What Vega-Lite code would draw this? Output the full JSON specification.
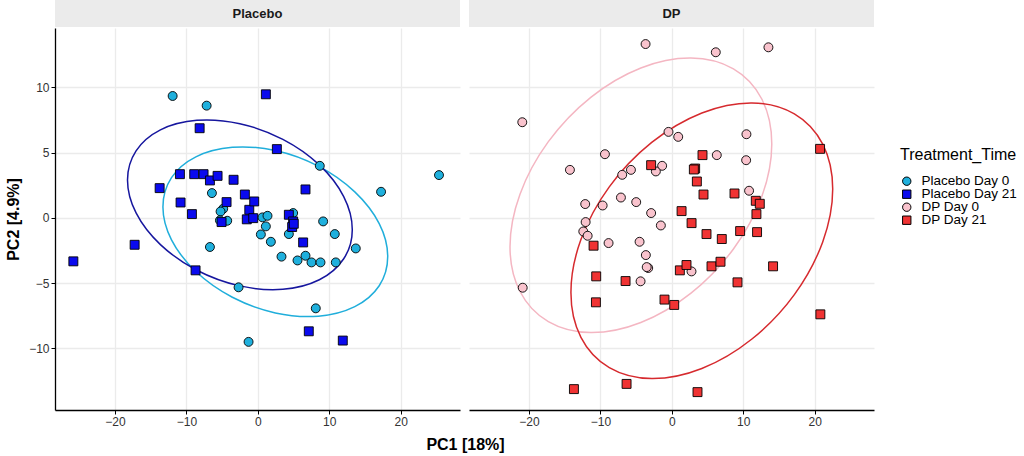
{
  "$schema": "https://vega.github.io/schema/vega-lite/v6.json",
  "padding": {"left": 5, "top": 0, "right": 5, "bottom": 3},
  "background": "white",
  "config": {
    "view": {"stroke": null},
    "font": "Liberation Sans",
    "axis": {
      "gridColor": "#EBEBEB", "gridWidth": 1.3,
      "domainColor": "black", "domainWidth": 1.3,
      "tickColor": "black", "tickSize": 4, "tickWidth": 1,
      "labelFontSize": 12, "labelColor": "#333333", "labelFont": "Liberation Sans", "labelPadding": 2,
      "titleFont": "Liberation Sans", "titleFontSize": 16, "titleFontWeight": "bold", "titleColor": "black"
    }
  },
  "datasets": {
    "strips": [{"panel": "Placebo"}, {"panel": "DP"}],
    "points": [
      {"panel": "Placebo", "group": "Placebo Day 0", "pc1": -11.93, "pc2": 9.33},
      {"panel": "Placebo", "group": "Placebo Day 0", "pc1": -7.17, "pc2": 8.59},
      {"panel": "Placebo", "group": "Placebo Day 0", "pc1": -6.43, "pc2": 1.89},
      {"panel": "Placebo", "group": "Placebo Day 0", "pc1": -4.85, "pc2": 0.69},
      {"panel": "Placebo", "group": "Placebo Day 0", "pc1": -5.22, "pc2": 0.48},
      {"panel": "Placebo", "group": "Placebo Day 0", "pc1": -5.31, "pc2": -0.2},
      {"panel": "Placebo", "group": "Placebo Day 0", "pc1": -4.29, "pc2": -0.23},
      {"panel": "Placebo", "group": "Placebo Day 0", "pc1": -6.71, "pc2": -2.24},
      {"panel": "Placebo", "group": "Placebo Day 0", "pc1": -2.7, "pc2": -5.33},
      {"panel": "Placebo", "group": "Placebo Day 0", "pc1": -1.3, "pc2": -9.51},
      {"panel": "Placebo", "group": "Placebo Day 0", "pc1": 8.67, "pc2": 3.98},
      {"panel": "Placebo", "group": "Placebo Day 0", "pc1": 25.36, "pc2": 3.27},
      {"panel": "Placebo", "group": "Placebo Day 0", "pc1": 17.25, "pc2": 1.99},
      {"panel": "Placebo", "group": "Placebo Day 0", "pc1": 0.65, "pc2": 0.03},
      {"panel": "Placebo", "group": "Placebo Day 0", "pc1": 1.35, "pc2": 0.15},
      {"panel": "Placebo", "group": "Placebo Day 0", "pc1": 1.12, "pc2": -0.66},
      {"panel": "Placebo", "group": "Placebo Day 0", "pc1": 4.94, "pc2": 0.36},
      {"panel": "Placebo", "group": "Placebo Day 0", "pc1": 9.14, "pc2": -0.28},
      {"panel": "Placebo", "group": "Placebo Day 0", "pc1": 0.42, "pc2": -1.28},
      {"panel": "Placebo", "group": "Placebo Day 0", "pc1": 1.82, "pc2": -1.84},
      {"panel": "Placebo", "group": "Placebo Day 0", "pc1": 4.34, "pc2": -1.25},
      {"panel": "Placebo", "group": "Placebo Day 0", "pc1": 10.77, "pc2": -1.25},
      {"panel": "Placebo", "group": "Placebo Day 0", "pc1": 13.71, "pc2": -2.35},
      {"panel": "Placebo", "group": "Placebo Day 0", "pc1": 3.31, "pc2": -2.98},
      {"panel": "Placebo", "group": "Placebo Day 0", "pc1": 6.67, "pc2": -2.91},
      {"panel": "Placebo", "group": "Placebo Day 0", "pc1": 5.55, "pc2": -3.27},
      {"panel": "Placebo", "group": "Placebo Day 0", "pc1": 7.51, "pc2": -3.42},
      {"panel": "Placebo", "group": "Placebo Day 0", "pc1": 8.77, "pc2": -3.42},
      {"panel": "Placebo", "group": "Placebo Day 0", "pc1": 10.91, "pc2": -3.42},
      {"panel": "Placebo", "group": "Placebo Day 0", "pc1": 8.11, "pc2": -6.94},
      {"panel": "Placebo", "group": "Placebo Day 21", "pc1": -8.15, "pc2": 6.86},
      {"panel": "Placebo", "group": "Placebo Day 21", "pc1": -10.91, "pc2": 3.34},
      {"panel": "Placebo", "group": "Placebo Day 21", "pc1": -8.91, "pc2": 3.34},
      {"panel": "Placebo", "group": "Placebo Day 21", "pc1": -7.6, "pc2": 3.34},
      {"panel": "Placebo", "group": "Placebo Day 21", "pc1": -6.71, "pc2": 2.86},
      {"panel": "Placebo", "group": "Placebo Day 21", "pc1": -5.64, "pc2": 3.21},
      {"panel": "Placebo", "group": "Placebo Day 21", "pc1": -3.4, "pc2": 2.91},
      {"panel": "Placebo", "group": "Placebo Day 21", "pc1": -13.75, "pc2": 2.27},
      {"panel": "Placebo", "group": "Placebo Day 21", "pc1": -1.82, "pc2": 1.78},
      {"panel": "Placebo", "group": "Placebo Day 21", "pc1": -10.82, "pc2": 1.17},
      {"panel": "Placebo", "group": "Placebo Day 21", "pc1": -4.38, "pc2": 1.2},
      {"panel": "Placebo", "group": "Placebo Day 21", "pc1": -9.23, "pc2": 0.28},
      {"panel": "Placebo", "group": "Placebo Day 21", "pc1": -1.2, "pc2": 0.61},
      {"panel": "Placebo", "group": "Placebo Day 21", "pc1": -5.08, "pc2": -0.33},
      {"panel": "Placebo", "group": "Placebo Day 21", "pc1": -1.55, "pc2": -0.12},
      {"panel": "Placebo", "group": "Placebo Day 21", "pc1": -17.25, "pc2": -2.07},
      {"panel": "Placebo", "group": "Placebo Day 21", "pc1": -25.83, "pc2": -3.34},
      {"panel": "Placebo", "group": "Placebo Day 21", "pc1": -8.72, "pc2": -4.03},
      {"panel": "Placebo", "group": "Placebo Day 21", "pc1": 1.12, "pc2": 9.46},
      {"panel": "Placebo", "group": "Placebo Day 21", "pc1": 2.66, "pc2": 5.26},
      {"panel": "Placebo", "group": "Placebo Day 21", "pc1": 6.67, "pc2": 2.17},
      {"panel": "Placebo", "group": "Placebo Day 21", "pc1": -0.51, "pc2": 1.25},
      {"panel": "Placebo", "group": "Placebo Day 21", "pc1": -0.65, "pc2": -0.03},
      {"panel": "Placebo", "group": "Placebo Day 21", "pc1": 4.34, "pc2": 0.23},
      {"panel": "Placebo", "group": "Placebo Day 21", "pc1": 4.94, "pc2": -0.28},
      {"panel": "Placebo", "group": "Placebo Day 21", "pc1": 4.8, "pc2": -0.71},
      {"panel": "Placebo", "group": "Placebo Day 21", "pc1": 5.03, "pc2": -0.46},
      {"panel": "Placebo", "group": "Placebo Day 21", "pc1": 6.34, "pc2": -1.89},
      {"panel": "Placebo", "group": "Placebo Day 21", "pc1": 7.13, "pc2": -8.7},
      {"panel": "Placebo", "group": "Placebo Day 21", "pc1": 11.89, "pc2": -9.41},
      {"panel": "DP", "group": "DP Day 0", "pc1": -20.94, "pc2": 7.32},
      {"panel": "DP", "group": "DP Day 0", "pc1": -9.37, "pc2": 4.87},
      {"panel": "DP", "group": "DP Day 0", "pc1": -14.27, "pc2": 3.67},
      {"panel": "DP", "group": "DP Day 0", "pc1": -6.95, "pc2": 3.29},
      {"panel": "DP", "group": "DP Day 0", "pc1": -5.73, "pc2": 3.67},
      {"panel": "DP", "group": "DP Day 0", "pc1": -7.13, "pc2": 1.55},
      {"panel": "DP", "group": "DP Day 0", "pc1": -4.99, "pc2": 1.2},
      {"panel": "DP", "group": "DP Day 0", "pc1": -12.13, "pc2": 1.05},
      {"panel": "DP", "group": "DP Day 0", "pc1": -9.69, "pc2": 0.94},
      {"panel": "DP", "group": "DP Day 0", "pc1": -12.07, "pc2": -0.33},
      {"panel": "DP", "group": "DP Day 0", "pc1": -3.68, "pc2": 13.31},
      {"panel": "DP", "group": "DP Day 0", "pc1": 6.15, "pc2": 12.68},
      {"panel": "DP", "group": "DP Day 0", "pc1": 13.52, "pc2": 13.06},
      {"panel": "DP", "group": "DP Day 0", "pc1": -0.47, "pc2": 6.58},
      {"panel": "DP", "group": "DP Day 0", "pc1": 0.89, "pc2": 6.2},
      {"panel": "DP", "group": "DP Day 0", "pc1": 10.44, "pc2": 6.4},
      {"panel": "DP", "group": "DP Day 0", "pc1": 6.29, "pc2": 4.8},
      {"panel": "DP", "group": "DP Day 0", "pc1": 10.4, "pc2": 4.41},
      {"panel": "DP", "group": "DP Day 0", "pc1": -1.36, "pc2": 3.98},
      {"panel": "DP", "group": "DP Day 0", "pc1": -2.24, "pc2": 3.55},
      {"panel": "DP", "group": "DP Day 0", "pc1": 10.81, "pc2": 2.07},
      {"panel": "DP", "group": "DP Day 0", "pc1": -2.9, "pc2": 0.36},
      {"panel": "DP", "group": "DP Day 0", "pc1": -1.54, "pc2": -0.59},
      {"panel": "DP", "group": "DP Day 0", "pc1": -4.52, "pc2": -1.84},
      {"panel": "DP", "group": "DP Day 0", "pc1": -3.64, "pc2": -2.86},
      {"panel": "DP", "group": "DP Day 0", "pc1": -3.31, "pc2": -3.85},
      {"panel": "DP", "group": "DP Day 0", "pc1": -3.52, "pc2": -3.78},
      {"panel": "DP", "group": "DP Day 0", "pc1": -4.38, "pc2": -4.87},
      {"panel": "DP", "group": "DP Day 0", "pc1": 2.75, "pc2": -4.11},
      {"panel": "DP", "group": "DP Day 0", "pc1": -12.4, "pc2": -1.05},
      {"panel": "DP", "group": "DP Day 0", "pc1": -11.79, "pc2": -1.38},
      {"panel": "DP", "group": "DP Day 0", "pc1": -8.86, "pc2": -1.94},
      {"panel": "DP", "group": "DP Day 0", "pc1": -20.88, "pc2": -5.36},
      {"panel": "DP", "group": "DP Day 21", "pc1": 20.75, "pc2": 5.28},
      {"panel": "DP", "group": "DP Day 21", "pc1": 4.29, "pc2": 4.8},
      {"panel": "DP", "group": "DP Day 21", "pc1": -2.9, "pc2": 4.03},
      {"panel": "DP", "group": "DP Day 21", "pc1": 3.26, "pc2": 3.77},
      {"panel": "DP", "group": "DP Day 21", "pc1": 3.08, "pc2": 3.7},
      {"panel": "DP", "group": "DP Day 21", "pc1": 3.5, "pc2": 2.78},
      {"panel": "DP", "group": "DP Day 21", "pc1": 4.43, "pc2": 1.78},
      {"panel": "DP", "group": "DP Day 21", "pc1": 8.77, "pc2": 1.86},
      {"panel": "DP", "group": "DP Day 21", "pc1": 11.75, "pc2": 1.3},
      {"panel": "DP", "group": "DP Day 21", "pc1": 12.31, "pc2": 1.07},
      {"panel": "DP", "group": "DP Day 21", "pc1": 11.84, "pc2": 0.28},
      {"panel": "DP", "group": "DP Day 21", "pc1": 1.36, "pc2": 0.51},
      {"panel": "DP", "group": "DP Day 21", "pc1": 2.76, "pc2": -0.41},
      {"panel": "DP", "group": "DP Day 21", "pc1": 4.85, "pc2": -1.25},
      {"panel": "DP", "group": "DP Day 21", "pc1": 6.99, "pc2": -1.63},
      {"panel": "DP", "group": "DP Day 21", "pc1": 9.56, "pc2": -1.02},
      {"panel": "DP", "group": "DP Day 21", "pc1": 11.93, "pc2": -1.1},
      {"panel": "DP", "group": "DP Day 21", "pc1": 1.12, "pc2": -4.03},
      {"panel": "DP", "group": "DP Day 21", "pc1": 2.05, "pc2": -3.62},
      {"panel": "DP", "group": "DP Day 21", "pc1": 5.55, "pc2": -3.72},
      {"panel": "DP", "group": "DP Day 21", "pc1": 6.81, "pc2": -3.37},
      {"panel": "DP", "group": "DP Day 21", "pc1": 14.17, "pc2": -3.72},
      {"panel": "DP", "group": "DP Day 21", "pc1": 9.19, "pc2": -4.95},
      {"panel": "DP", "group": "DP Day 21", "pc1": -1.03, "pc2": -6.27},
      {"panel": "DP", "group": "DP Day 21", "pc1": 0.33, "pc2": -6.68},
      {"panel": "DP", "group": "DP Day 21", "pc1": 20.79, "pc2": -7.4},
      {"panel": "DP", "group": "DP Day 21", "pc1": 3.59, "pc2": -13.36},
      {"panel": "DP", "group": "DP Day 21", "pc1": -6.34, "pc2": -12.73},
      {"panel": "DP", "group": "DP Day 21", "pc1": -10.96, "pc2": -2.14},
      {"panel": "DP", "group": "DP Day 21", "pc1": -10.59, "pc2": -4.49},
      {"panel": "DP", "group": "DP Day 21", "pc1": -6.48, "pc2": -4.85},
      {"panel": "DP", "group": "DP Day 21", "pc1": -10.63, "pc2": -6.48},
      {"panel": "DP", "group": "DP Day 21", "pc1": -13.71, "pc2": -13.13}
    ],
    "ellipses": [
      {"panel": "Placebo", "group": "Placebo Day 21", "i": 0, "pc1": 13.22, "pc2": -0.91},
      {"panel": "Placebo", "group": "Placebo Day 21", "i": 1, "pc1": 12.02, "pc2": -3.14},
      {"panel": "Placebo", "group": "Placebo Day 21", "i": 2, "pc1": 8.61, "pc2": -4.75},
      {"panel": "Placebo", "group": "Placebo Day 21", "i": 3, "pc1": 3.5, "pc2": -5.48},
      {"panel": "Placebo", "group": "Placebo Day 21", "i": 4, "pc1": -2.52, "pc2": -5.22},
      {"panel": "Placebo", "group": "Placebo Day 21", "i": 5, "pc1": -8.54, "pc2": -4.02},
      {"panel": "Placebo", "group": "Placebo Day 21", "i": 6, "pc1": -13.64, "pc2": -2.06},
      {"panel": "Placebo", "group": "Placebo Day 21", "i": 7, "pc1": -17.05, "pc2": 0.37},
      {"panel": "Placebo", "group": "Placebo Day 21", "i": 8, "pc1": -18.25, "pc2": 2.9},
      {"panel": "Placebo", "group": "Placebo Day 21", "i": 9, "pc1": -17.05, "pc2": 5.13},
      {"panel": "Placebo", "group": "Placebo Day 21", "i": 10, "pc1": -13.64, "pc2": 6.74},
      {"panel": "Placebo", "group": "Placebo Day 21", "i": 11, "pc1": -8.54, "pc2": 7.47},
      {"panel": "Placebo", "group": "Placebo Day 21", "i": 12, "pc1": -2.52, "pc2": 7.21},
      {"panel": "Placebo", "group": "Placebo Day 21", "i": 13, "pc1": 3.5, "pc2": 6.01},
      {"panel": "Placebo", "group": "Placebo Day 21", "i": 14, "pc1": 8.61, "pc2": 4.05},
      {"panel": "Placebo", "group": "Placebo Day 21", "i": 15, "pc1": 12.02, "pc2": 1.62},
      {"panel": "Placebo", "group": "Placebo Day 0", "i": 0, "pc1": 18.18, "pc2": -2.97},
      {"panel": "Placebo", "group": "Placebo Day 0", "i": 1, "pc1": 16.99, "pc2": -5.21},
      {"panel": "Placebo", "group": "Placebo Day 0", "i": 2, "pc1": 13.57, "pc2": -6.81},
      {"panel": "Placebo", "group": "Placebo Day 0", "i": 3, "pc1": 8.47, "pc2": -7.54},
      {"panel": "Placebo", "group": "Placebo Day 0", "i": 4, "pc1": 2.45, "pc2": -7.29},
      {"panel": "Placebo", "group": "Placebo Day 0", "i": 5, "pc1": -3.57, "pc2": -6.09},
      {"panel": "Placebo", "group": "Placebo Day 0", "i": 6, "pc1": -8.68, "pc2": -4.12},
      {"panel": "Placebo", "group": "Placebo Day 0", "i": 7, "pc1": -12.09, "pc2": -1.69},
      {"panel": "Placebo", "group": "Placebo Day 0", "i": 8, "pc1": -13.29, "pc2": 0.83},
      {"panel": "Placebo", "group": "Placebo Day 0", "i": 9, "pc1": -12.09, "pc2": 3.07},
      {"panel": "Placebo", "group": "Placebo Day 0", "i": 10, "pc1": -8.68, "pc2": 4.67},
      {"panel": "Placebo", "group": "Placebo Day 0", "i": 11, "pc1": -3.57, "pc2": 5.4},
      {"panel": "Placebo", "group": "Placebo Day 0", "i": 12, "pc1": 2.45, "pc2": 5.15},
      {"panel": "Placebo", "group": "Placebo Day 0", "i": 13, "pc1": 8.47, "pc2": 3.95},
      {"panel": "Placebo", "group": "Placebo Day 0", "i": 14, "pc1": 13.57, "pc2": 1.98},
      {"panel": "Placebo", "group": "Placebo Day 0", "i": 15, "pc1": 16.99, "pc2": -0.45},
      {"panel": "DP", "group": "DP Day 0", "i": 0, "pc1": 13.99, "pc2": 5.66},
      {"panel": "DP", "group": "DP Day 0", "i": 1, "pc1": 12.59, "pc2": 1.63},
      {"panel": "DP", "group": "DP Day 0", "i": 2, "pc1": 8.62, "pc2": -2.39},
      {"panel": "DP", "group": "DP Day 0", "i": 3, "pc1": 2.68, "pc2": -5.78},
      {"panel": "DP", "group": "DP Day 0", "i": 4, "pc1": -4.34, "pc2": -8.03},
      {"panel": "DP", "group": "DP Day 0", "i": 5, "pc1": -11.35, "pc2": -8.8},
      {"panel": "DP", "group": "DP Day 0", "i": 6, "pc1": -17.29, "pc2": -7.96},
      {"panel": "DP", "group": "DP Day 0", "i": 7, "pc1": -21.26, "pc2": -5.65},
      {"panel": "DP", "group": "DP Day 0", "i": 8, "pc1": -22.66, "pc2": -2.22},
      {"panel": "DP", "group": "DP Day 0", "i": 9, "pc1": -21.26, "pc2": 1.81},
      {"panel": "DP", "group": "DP Day 0", "i": 10, "pc1": -17.29, "pc2": 5.83},
      {"panel": "DP", "group": "DP Day 0", "i": 11, "pc1": -11.35, "pc2": 9.23},
      {"panel": "DP", "group": "DP Day 0", "i": 12, "pc1": -4.34, "pc2": 11.48},
      {"panel": "DP", "group": "DP Day 0", "i": 13, "pc1": 2.68, "pc2": 12.24},
      {"panel": "DP", "group": "DP Day 0", "i": 14, "pc1": 8.62, "pc2": 11.41},
      {"panel": "DP", "group": "DP Day 0", "i": 15, "pc1": 12.59, "pc2": 9.1},
      {"panel": "DP", "group": "DP Day 21", "i": 0, "pc1": 22.52, "pc2": 2.2},
      {"panel": "DP", "group": "DP Day 21", "i": 1, "pc1": 21.12, "pc2": -1.85},
      {"panel": "DP", "group": "DP Day 21", "i": 2, "pc1": 17.15, "pc2": -5.89},
      {"panel": "DP", "group": "DP Day 21", "i": 3, "pc1": 11.21, "pc2": -9.29},
      {"panel": "DP", "group": "DP Day 21", "i": 4, "pc1": 4.2, "pc2": -11.55},
      {"panel": "DP", "group": "DP Day 21", "i": 5, "pc1": -2.82, "pc2": -12.32},
      {"panel": "DP", "group": "DP Day 21", "i": 6, "pc1": -8.76, "pc2": -11.48},
      {"panel": "DP", "group": "DP Day 21", "i": 7, "pc1": -12.73, "pc2": -9.16},
      {"panel": "DP", "group": "DP Day 21", "i": 8, "pc1": -14.13, "pc2": -5.72},
      {"panel": "DP", "group": "DP Day 21", "i": 9, "pc1": -12.73, "pc2": -1.67},
      {"panel": "DP", "group": "DP Day 21", "i": 10, "pc1": -8.76, "pc2": 2.37},
      {"panel": "DP", "group": "DP Day 21", "i": 11, "pc1": -2.82, "pc2": 5.77},
      {"panel": "DP", "group": "DP Day 21", "i": 12, "pc1": 4.2, "pc2": 8.03},
      {"panel": "DP", "group": "DP Day 21", "i": 13, "pc1": 11.21, "pc2": 8.8},
      {"panel": "DP", "group": "DP Day 21", "i": 14, "pc1": 17.15, "pc2": 7.96},
      {"panel": "DP", "group": "DP Day 21", "i": 15, "pc1": 21.12, "pc2": 5.64}
    ]
  },
  "resolve": {"scale": {"color": "shared", "shape": "shared"}},
  "spacing": 1,
  "vconcat": [
    {
      "bounds": "flush",
      "spacing": 9,
      "hconcat": [
        {
          "width": 405, "height": 27,
          "view": {"fill": "#EBEBEB", "stroke": null},
          "data": {"name": "strips"},
          "transform": [{"filter": "datum.panel === 'Placebo'"}],
          "mark": {"type": "text", "fontSize": 13, "fontWeight": "bold", "color": "#1A1A1A", "font": "Liberation Sans"},
          "encoding": {"text": {"field": "panel", "type": "nominal"}}
        },
        {
          "width": 405, "height": 27,
          "view": {"fill": "#EBEBEB", "stroke": null},
          "data": {"name": "strips"},
          "transform": [{"filter": "datum.panel === 'DP'"}],
          "mark": {"type": "text", "fontSize": 13, "fontWeight": "bold", "color": "#1A1A1A", "font": "Liberation Sans"},
          "encoding": {"text": {"field": "panel", "type": "nominal"}}
        }
      ]
    },
    {
      "bounds": "flush",
      "spacing": 9,
      "resolve": {"scale": {"color": "shared", "shape": "shared"}},
      "hconcat": [
        {
          "width": 405, "height": 382,
          "data": {"name": "ellipses"},
          "transform": [{"filter": "datum.panel === 'Placebo'"}],
          "encoding": {
            "x": {"field": "pc1", "type": "quantitative", "scale": {"domain": [-28.4, 28.3], "nice": false, "zero": false},
                  "axis": {"values": [-20, -10, 0, 10, 20], "title": "PC1 [18%]", "titleX": 410, "titleY": 26, "titleAlign": "center", "titleBaseline": "top"}},
            "y": {"field": "pc2", "type": "quantitative", "scale": {"domain": [-14.73, 14.54], "nice": false, "zero": false},
                  "axis": {"values": [-10, -5, 0, 5, 10], "title": "PC2 [4.9%]", "titlePadding": 7}}
          },
          "layer": [
            {
              "transform": [{"filter": "datum.group === 'Placebo Day 0'"}],
              "mark": {"type": "line", "interpolate": "cardinal-closed", "strokeWidth": 1.5, "color": "#20AEDB"},
              "encoding": {"order": {"field": "i", "type": "quantitative"}}
            },
            {
              "transform": [{"filter": "datum.group === 'Placebo Day 21'"}],
              "mark": {"type": "line", "interpolate": "cardinal-closed", "strokeWidth": 1.5, "color": "#16169E"},
              "encoding": {"order": {"field": "i", "type": "quantitative"}}
            },
            {
              "data": {"name": "points"},
              "transform": [{"filter": "datum.panel === 'Placebo'"}],
              "mark": {"type": "point", "filled": true, "stroke": "black", "strokeWidth": 0.9, "opacity": 1, "size": 80},
              "encoding": {
                "color": {"field": "group", "type": "nominal",
                          "scale": {"domain": ["Placebo Day 0", "Placebo Day 21", "DP Day 0", "DP Day 21"], "range": ["#1FB0DD", "#0A0AEE", "#F9C3CD", "#F03333"]},
                          "legend": {"title": "Treatment_Time", "orient": "none", "legendX": 845, "legendY": 147, "titleFontSize": 16, "titleFontWeight": "normal", "titleColor": "black", "labelFontSize": 13.5, "labelColor": "black", "symbolSize": 70, "clipHeight": 12.4, "rowPadding": -2.5, "symbolStrokeColor": "black", "symbolStrokeWidth": 1, "titlePadding": 12, "labelOffset": 8, "padding": 0}},
                "shape": {"field": "group", "type": "nominal",
                          "scale": {"domain": ["Placebo Day 0", "Placebo Day 21", "DP Day 0", "DP Day 21"], "range": ["circle", "square", "circle", "square"]},
                          "legend": {"title": "Treatment_Time", "orient": "none", "legendX": 845, "legendY": 147, "titleFontSize": 16, "titleFontWeight": "normal", "titleColor": "black", "labelFontSize": 13.5, "labelColor": "black", "symbolSize": 70, "clipHeight": 12.4, "rowPadding": -2.5, "symbolStrokeColor": "black", "symbolStrokeWidth": 1, "titlePadding": 12, "labelOffset": 8, "padding": 0}}
              }
            }
          ]
        },
        {
          "width": 405, "height": 382,
          "data": {"name": "ellipses"},
          "transform": [{"filter": "datum.panel === 'DP'"}],
          "encoding": {
            "x": {"field": "pc1", "type": "quantitative", "scale": {"domain": [-28.4, 28.3], "nice": false, "zero": false},
                  "axis": {"values": [-20, -10, 0, 10, 20], "title": null}},
            "y": {"field": "pc2", "type": "quantitative", "scale": {"domain": [-14.73, 14.54], "nice": false, "zero": false},
                  "axis": {"values": [-10, -5, 0, 5, 10], "title": null, "labels": false, "ticks": false, "domain": false}}
          },
          "layer": [
            {
              "transform": [{"filter": "datum.group === 'DP Day 0'"}],
              "mark": {"type": "line", "interpolate": "cardinal-closed", "strokeWidth": 1.5, "color": "#F4B6C2"},
              "encoding": {"order": {"field": "i", "type": "quantitative"}}
            },
            {
              "transform": [{"filter": "datum.group === 'DP Day 21'"}],
              "mark": {"type": "line", "interpolate": "cardinal-closed", "strokeWidth": 1.5, "color": "#D62A2E"},
              "encoding": {"order": {"field": "i", "type": "quantitative"}}
            },
            {
              "data": {"name": "points"},
              "transform": [{"filter": "datum.panel === 'DP'"}],
              "mark": {"type": "point", "filled": true, "stroke": "black", "strokeWidth": 0.9, "opacity": 1, "size": 80},
              "encoding": {
                "color": {"field": "group", "type": "nominal",
                          "scale": {"domain": ["Placebo Day 0", "Placebo Day 21", "DP Day 0", "DP Day 21"], "range": ["#1FB0DD", "#0A0AEE", "#F9C3CD", "#F03333"]},
                          "legend": {"title": "Treatment_Time", "orient": "none", "legendX": 845, "legendY": 147, "titleFontSize": 16, "titleFontWeight": "normal", "titleColor": "black", "labelFontSize": 13.5, "labelColor": "black", "symbolSize": 70, "clipHeight": 12.4, "rowPadding": -2.5, "symbolStrokeColor": "black", "symbolStrokeWidth": 1, "titlePadding": 12, "labelOffset": 8, "padding": 0}},
                "shape": {"field": "group", "type": "nominal",
                          "scale": {"domain": ["Placebo Day 0", "Placebo Day 21", "DP Day 0", "DP Day 21"], "range": ["circle", "square", "circle", "square"]},
                          "legend": {"title": "Treatment_Time", "orient": "none", "legendX": 845, "legendY": 147, "titleFontSize": 16, "titleFontWeight": "normal", "titleColor": "black", "labelFontSize": 13.5, "labelColor": "black", "symbolSize": 70, "clipHeight": 12.4, "rowPadding": -2.5, "symbolStrokeColor": "black", "symbolStrokeWidth": 1, "titlePadding": 12, "labelOffset": 8, "padding": 0}}
              }
            }
          ]
        }
      ]
    }
  ]
}
